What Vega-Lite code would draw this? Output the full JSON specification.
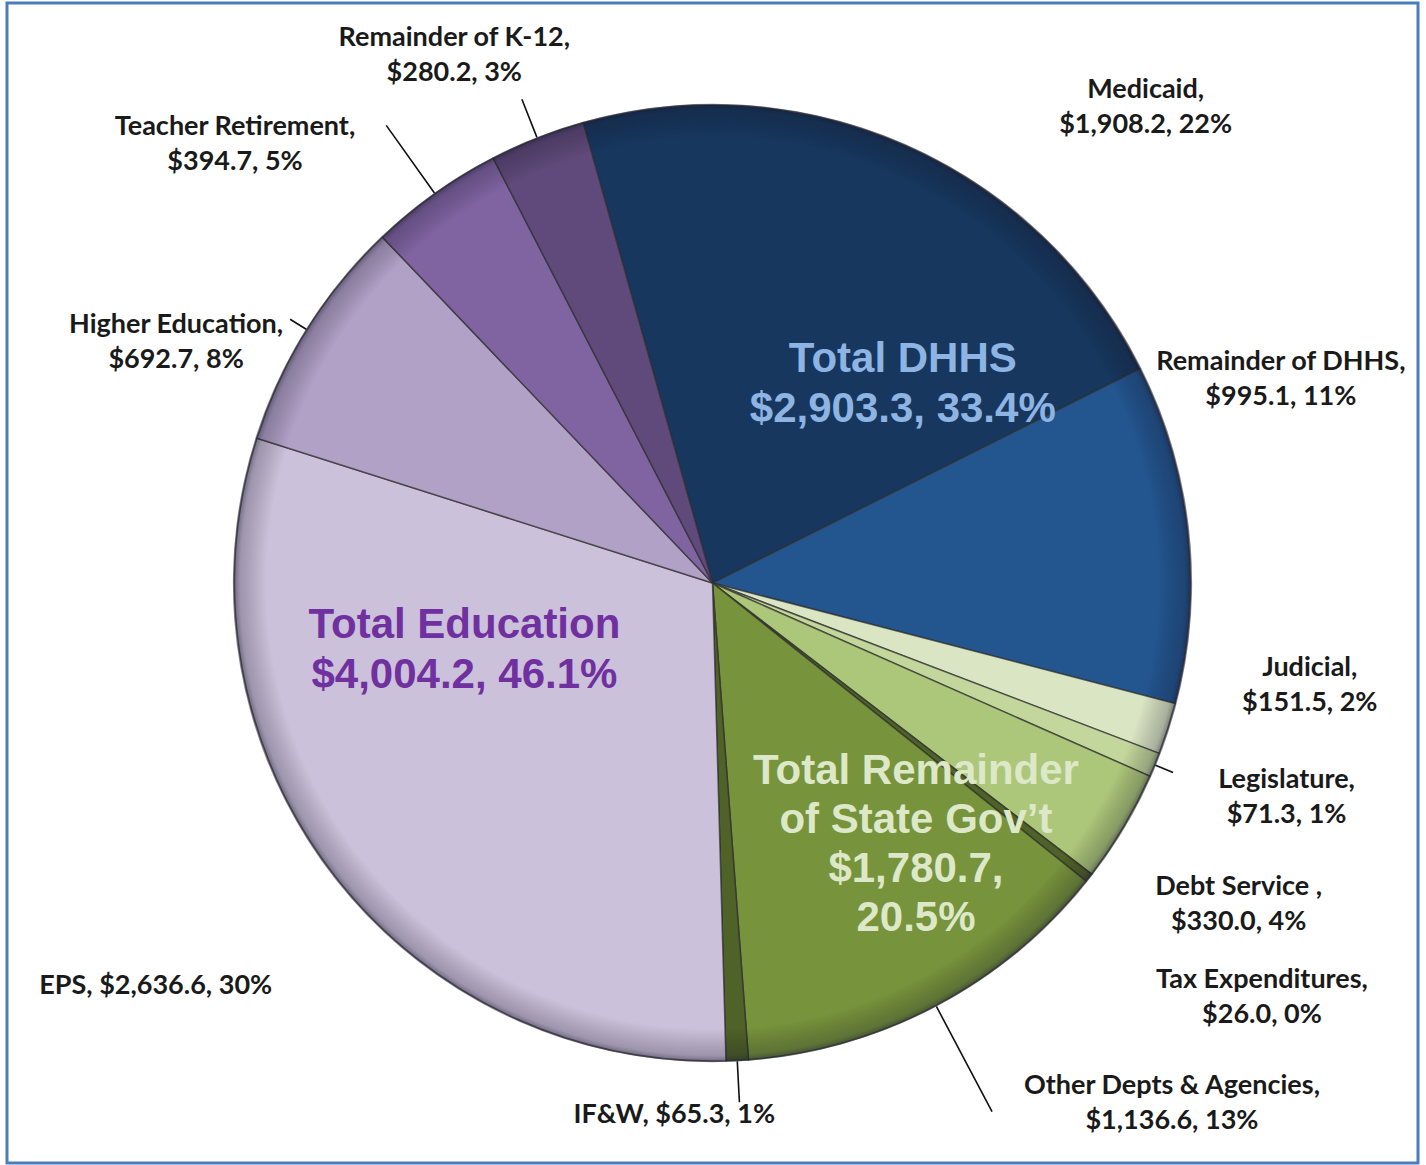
{
  "$schema": "https://vega.github.io/schema/vega-lite/v6.json",
  "autosize": "none",
  "width": 1411,
  "height": 1160,
  "padding": {"left": 7, "top": 3, "right": 8, "bottom": 2},
  "background": "white",
  "config": {"view": {"stroke": null}},
  "datasets": {
    "slices": [
      {"name": "Medicaid", "value": 1908.2, "order": 1, "label": "Medicaid,\n$1,908.2, 22%"},
      {"name": "Remainder of DHHS", "value": 995.1, "order": 2, "label": "Remainder of DHHS,\n$995.1, 11%"},
      {"name": "Judicial", "value": 151.5, "order": 3, "label": "Judicial,\n$151.5, 2%"},
      {"name": "Legislature", "value": 71.3, "order": 4, "label": "Legislature,\n$71.3, 1%"},
      {"name": "Debt Service", "value": 330.0, "order": 5, "label": "Debt Service ,\n$330.0, 4%"},
      {"name": "Tax Expenditures", "value": 26.0, "order": 6, "label": "Tax Expenditures,\n$26.0, 0%"},
      {"name": "Other Depts & Agencies", "value": 1136.6, "order": 7, "label": "Other Depts & Agencies,\n$1,136.6, 13%"},
      {"name": "IF&W", "value": 65.3, "order": 8, "label": "IF&W, $65.3, 1%"},
      {"name": "EPS", "value": 2636.6, "order": 9, "label": "EPS, $2,636.6, 30%"},
      {"name": "Higher Education", "value": 692.7, "order": 10, "label": "Higher Education,\n$692.7, 8%"},
      {"name": "Teacher Retirement", "value": 394.7, "order": 11, "label": "Teacher Retirement,\n$394.7, 5%"},
      {"name": "Remainder of K-12", "value": 280.2, "order": 12, "label": "Remainder of K-12,\n$280.2, 3%"}
    ],
    "groups": [
      {"group": "DHHS", "total": 2903.3, "order": 1, "glabel": "Total DHHS\n$2,903.3, 33.4%"},
      {"group": "State", "total": 1780.7, "order": 2, "glabel": "Total Remainder\nof State Gov’t\n$1,780.7,\n20.5%"},
      {"group": "Education", "total": 4004.2, "order": 3, "glabel": "Total Education\n$4,004.2, 46.1%"}
    ],
    "whole": [{"total": 8688.2}]
  },
  "layer": [
    {
      "data": {"name": "whole"},
      "mark": {"type": "rect", "fill": "white", "stroke": "#4a7ebb", "strokeWidth": 3},
      "encoding": {
        "x": {"value": 0}, "x2": {"value": "width"},
        "y": {"value": 0}, "y2": {"value": "height"}
      }
    },
    {
      "data": {"name": "slices"},
      "mark": {"type": "arc", "radius": 478, "stroke": "#2e2e2e", "strokeWidth": 1.5, "strokeOpacity": 0.7},
      "encoding": {
        "theta": {"field": "value", "type": "quantitative", "stack": true, "scale": {"range": [-0.274, 6.0092]}},
        "order": {"field": "order", "type": "quantitative"},
        "color": {
          "field": "name", "type": "nominal", "legend": null,
          "scale": {
            "domain": ["Medicaid", "Remainder of DHHS", "Judicial", "Legislature", "Debt Service", "Tax Expenditures", "Other Depts & Agencies", "IF&W", "EPS", "Higher Education", "Teacher Retirement", "Remainder of K-12"],
            "range": ["#17375e", "#23558f", "#dae5c4", "#c3d69b", "#adc77a", "#4f6228", "#77933c", "#4f6228", "#ccc1da", "#b2a1c7", "#8064a2", "#604a7b"]
          }
        }
      }
    },
    {
      "data": {"name": "whole"},
      "mark": {
        "type": "arc", "radius": 479,
        "fill": {"gradient": "radial", "x1": 0.5, "y1": 0.5, "x2": 0.5, "y2": 0.5, "r1": 0, "r2": 0.5,
          "stops": [
            {"offset": 0, "color": "rgba(0,0,0,0)"},
            {"offset": 0.93, "color": "rgba(0,0,0,0)"},
            {"offset": 0.985, "color": "rgba(20,20,40,0.25)"},
            {"offset": 1, "color": "rgba(20,20,40,0.55)"}
          ]}
      },
      "encoding": {
        "theta": {"field": "total", "type": "quantitative", "stack": true}
      }
    },
    {
      "data": {"name": "slices"},
      "mark": {"type": "arc", "innerRadius": 479, "outerRadius": 498, "padAngle": 3.14, "fill": "transparent", "stroke": "#111111", "strokeWidth": 1.6},
      "encoding": {
        "theta": {"field": "value", "type": "quantitative", "stack": true},
        "order": {"field": "order", "type": "quantitative"},
        "strokeOpacity": {"condition": {"test": "datum.name === 'Legislature' || datum.name === 'Higher Education'", "value": 1}, "value": 0}
      }
    },
    {
      "data": {"name": "slices"},
      "mark": {"type": "arc", "innerRadius": 479, "outerRadius": 520, "padAngle": 3.14, "fill": "transparent", "stroke": "#111111", "strokeWidth": 1.6},
      "encoding": {
        "theta": {"field": "value", "type": "quantitative", "stack": true},
        "order": {"field": "order", "type": "quantitative"},
        "strokeOpacity": {"condition": {"test": "datum.name === 'IF&W' || datum.name === 'Remainder of K-12'", "value": 1}, "value": 0}
      }
    },
    {
      "data": {"name": "slices"},
      "mark": {"type": "arc", "innerRadius": 479, "outerRadius": 562, "padAngle": 3.14, "fill": "transparent", "stroke": "#111111", "strokeWidth": 1.6},
      "encoding": {
        "theta": {"field": "value", "type": "quantitative", "stack": true},
        "order": {"field": "order", "type": "quantitative"},
        "strokeOpacity": {"condition": {"test": "datum.name === 'Teacher Retirement'", "value": 1}, "value": 0}
      }
    },
    {
      "data": {"name": "slices"},
      "mark": {"type": "arc", "innerRadius": 479, "outerRadius": 598, "padAngle": 3.14, "fill": "transparent", "stroke": "#111111", "strokeWidth": 1.6},
      "encoding": {
        "theta": {"field": "value", "type": "quantitative", "stack": true},
        "order": {"field": "order", "type": "quantitative"},
        "strokeOpacity": {"condition": {"test": "datum.name === 'Other Depts & Agencies'", "value": 1}, "value": 0}
      }
    },
    {
      "data": {"name": "slices"},
      "mark": {"type": "text", "radius": 478, "dx": 240, "dy": -56, "font": "Lato", "fontWeight": "bold", "fontSize": 27, "lineBreak": "\n", "lineHeight": 35, "align": "center", "baseline": "middle", "color": "#1a1a1a"},
      "encoding": {
        "theta": {"field": "value", "type": "quantitative", "stack": true},
        "order": {"field": "order", "type": "quantitative"},
        "text": {"condition": {"test": "datum.name === 'Medicaid'", "field": "label", "type": "nominal"}, "value": ""}
      }
    },
    {
      "data": {"name": "slices"},
      "mark": {"type": "text", "radius": 478, "dx": 93, "dy": -171, "font": "Lato", "fontWeight": "bold", "fontSize": 27, "lineBreak": "\n", "lineHeight": 35, "align": "center", "baseline": "middle", "color": "#1a1a1a"},
      "encoding": {
        "theta": {"field": "value", "type": "quantitative", "stack": true},
        "order": {"field": "order", "type": "quantitative"},
        "text": {"condition": {"test": "datum.name === 'Remainder of DHHS'", "field": "label", "type": "nominal"}, "value": ""}
      }
    },
    {
      "data": {"name": "slices"},
      "mark": {"type": "text", "radius": 478, "dx": 142, "dy": -61, "font": "Lato", "fontWeight": "bold", "fontSize": 27, "lineBreak": "\n", "lineHeight": 35, "align": "center", "baseline": "middle", "color": "#1a1a1a"},
      "encoding": {
        "theta": {"field": "value", "type": "quantitative", "stack": true},
        "order": {"field": "order", "type": "quantitative"},
        "text": {"condition": {"test": "datum.name === 'Judicial'", "field": "label", "type": "nominal"}, "value": ""}
      }
    },
    {
      "data": {"name": "slices"},
      "mark": {"type": "text", "radius": 478, "dx": 132, "dy": 15, "font": "Lato", "fontWeight": "bold", "fontSize": 27, "lineBreak": "\n", "lineHeight": 35, "align": "center", "baseline": "middle", "color": "#1a1a1a"},
      "encoding": {
        "theta": {"field": "value", "type": "quantitative", "stack": true},
        "order": {"field": "order", "type": "quantitative"},
        "text": {"condition": {"test": "datum.name === 'Legislature'", "field": "label", "type": "nominal"}, "value": ""}
      }
    },
    {
      "data": {"name": "slices"},
      "mark": {"type": "text", "radius": 478, "dx": 115, "dy": 60, "font": "Lato", "fontWeight": "bold", "fontSize": 27, "lineBreak": "\n", "lineHeight": 35, "align": "center", "baseline": "middle", "color": "#1a1a1a"},
      "encoding": {
        "theta": {"field": "value", "type": "quantitative", "stack": true},
        "order": {"field": "order", "type": "quantitative"},
        "text": {"condition": {"test": "datum.name === 'Debt Service'", "field": "label", "type": "nominal"}, "value": ""}
      }
    },
    {
      "data": {"name": "slices"},
      "mark": {"type": "text", "radius": 478, "dx": 173, "dy": 102, "font": "Lato", "fontWeight": "bold", "fontSize": 27, "lineBreak": "\n", "lineHeight": 35, "align": "center", "baseline": "middle", "color": "#1a1a1a"},
      "encoding": {
        "theta": {"field": "value", "type": "quantitative", "stack": true},
        "order": {"field": "order", "type": "quantitative"},
        "text": {"condition": {"test": "datum.name === 'Tax Expenditures'", "field": "label", "type": "nominal"}, "value": ""}
      }
    },
    {
      "data": {"name": "slices"},
      "mark": {"type": "text", "radius": 478, "dx": 236, "dy": 80, "font": "Lato", "fontWeight": "bold", "fontSize": 27, "lineBreak": "\n", "lineHeight": 35, "align": "center", "baseline": "middle", "color": "#1a1a1a"},
      "encoding": {
        "theta": {"field": "value", "type": "quantitative", "stack": true},
        "order": {"field": "order", "type": "quantitative"},
        "text": {"condition": {"test": "datum.name === 'Other Depts & Agencies'", "field": "label", "type": "nominal"}, "value": ""}
      }
    },
    {
      "data": {"name": "slices"},
      "mark": {"type": "text", "radius": 478, "dx": -63, "dy": 55, "font": "Lato", "fontWeight": "bold", "fontSize": 27, "lineBreak": "\n", "lineHeight": 35, "align": "center", "baseline": "middle", "color": "#1a1a1a"},
      "encoding": {
        "theta": {"field": "value", "type": "quantitative", "stack": true},
        "order": {"field": "order", "type": "quantitative"},
        "text": {"condition": {"test": "datum.name === 'IF&W'", "field": "label", "type": "nominal"}, "value": ""}
      }
    },
    {
      "data": {"name": "slices"},
      "mark": {"type": "text", "radius": 478, "dx": -175, "dy": 115, "font": "Lato", "fontWeight": "bold", "fontSize": 27, "lineBreak": "\n", "lineHeight": 35, "align": "center", "baseline": "middle", "color": "#1a1a1a"},
      "encoding": {
        "theta": {"field": "value", "type": "quantitative", "stack": true},
        "order": {"field": "order", "type": "quantitative"},
        "text": {"condition": {"test": "datum.name === 'EPS'", "field": "label", "type": "nominal"}, "value": ""}
      }
    },
    {
      "data": {"name": "slices"},
      "mark": {"type": "text", "radius": 478, "dx": -131, "dy": -5, "font": "Lato", "fontWeight": "bold", "fontSize": 27, "lineBreak": "\n", "lineHeight": 35, "align": "center", "baseline": "middle", "color": "#1a1a1a"},
      "encoding": {
        "theta": {"field": "value", "type": "quantitative", "stack": true},
        "order": {"field": "order", "type": "quantitative"},
        "text": {"condition": {"test": "datum.name === 'Higher Education'", "field": "label", "type": "nominal"}, "value": ""}
      }
    },
    {
      "data": {"name": "slices"},
      "mark": {"type": "text", "radius": 478, "dx": -200, "dy": -67, "font": "Lato", "fontWeight": "bold", "fontSize": 27, "lineBreak": "\n", "lineHeight": 35, "align": "center", "baseline": "middle", "color": "#1a1a1a"},
      "encoding": {
        "theta": {"field": "value", "type": "quantitative", "stack": true},
        "order": {"field": "order", "type": "quantitative"},
        "text": {"condition": {"test": "datum.name === 'Teacher Retirement'", "field": "label", "type": "nominal"}, "value": ""}
      }
    },
    {
      "data": {"name": "slices"},
      "mark": {"type": "text", "radius": 478, "dx": -83, "dy": -100, "font": "Lato", "fontWeight": "bold", "fontSize": 27, "lineBreak": "\n", "lineHeight": 35, "align": "center", "baseline": "middle", "color": "#1a1a1a"},
      "encoding": {
        "theta": {"field": "value", "type": "quantitative", "stack": true},
        "order": {"field": "order", "type": "quantitative"},
        "text": {"condition": {"test": "datum.name === 'Remainder of K-12'", "field": "label", "type": "nominal"}, "value": ""}
      }
    },
    {
      "data": {"name": "groups"},
      "mark": {"type": "text", "radius": 276, "dx": -3, "dy": -27, "font": "Liberation Sans", "fontWeight": "bold", "fontSize": 42, "lineBreak": "\n", "lineHeight": 50, "align": "center", "baseline": "middle", "color": "#8db4e2"},
      "encoding": {
        "theta": {"field": "total", "type": "quantitative", "stack": true},
        "order": {"field": "order", "type": "quantitative"},
        "text": {"condition": {"test": "datum.group === 'DHHS'", "field": "glabel", "type": "nominal"}, "value": ""}
      }
    },
    {
      "data": {"name": "groups"},
      "mark": {"type": "text", "radius": 330, "dx": -2, "dy": -70, "font": "Liberation Sans", "fontWeight": "bold", "fontSize": 42, "lineBreak": "\n", "lineHeight": 49, "align": "center", "baseline": "middle", "color": "#dde8c8"},
      "encoding": {
        "theta": {"field": "total", "type": "quantitative", "stack": true},
        "order": {"field": "order", "type": "quantitative"},
        "text": {"condition": {"test": "datum.group === 'State'", "field": "glabel", "type": "nominal"}, "value": ""}
      }
    },
    {
      "data": {"name": "groups"},
      "mark": {"type": "text", "radius": 255, "dx": 4, "dy": 4, "font": "Liberation Sans", "fontWeight": "bold", "fontSize": 42, "lineBreak": "\n", "lineHeight": 50, "align": "center", "baseline": "middle", "color": "#7030a0"},
      "encoding": {
        "theta": {"field": "total", "type": "quantitative", "stack": true},
        "order": {"field": "order", "type": "quantitative"},
        "text": {"condition": {"test": "datum.group === 'Education'", "field": "glabel", "type": "nominal"}, "value": ""}
      }
    }
  ]
}
